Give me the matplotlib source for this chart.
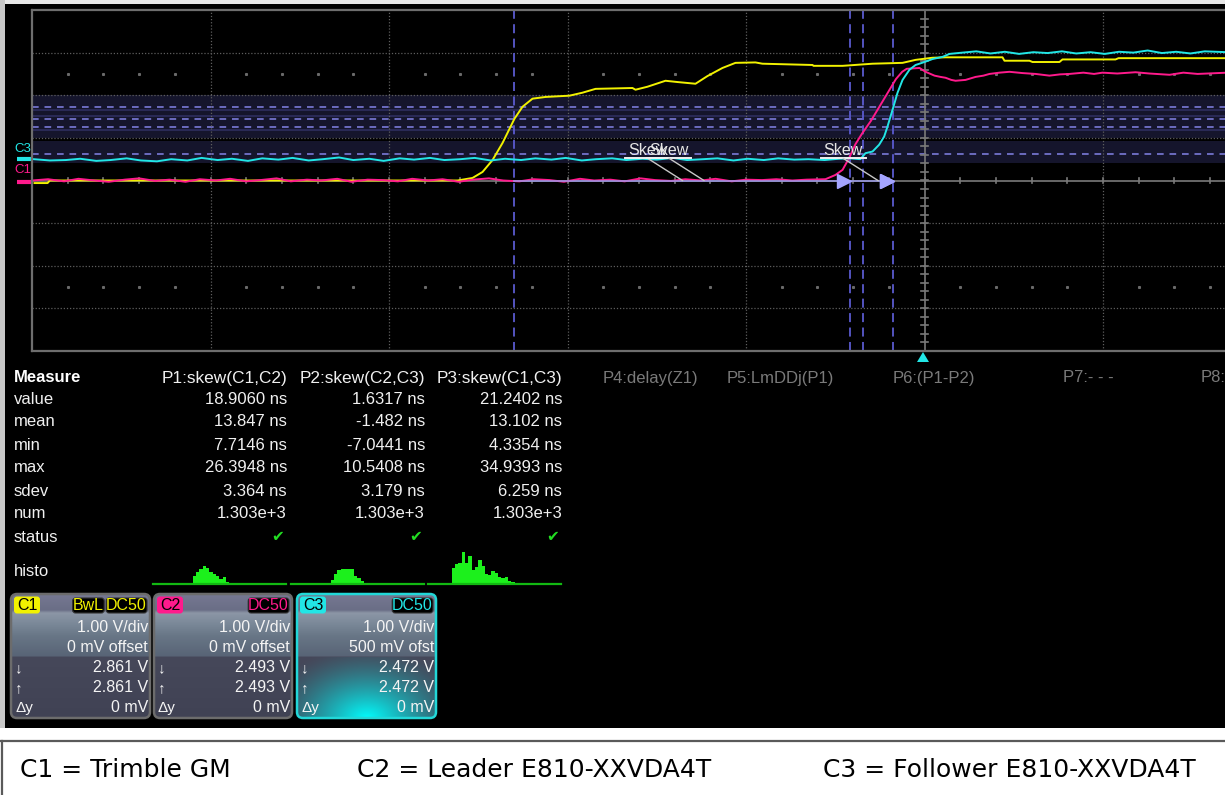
import numpy as np
import matplotlib
matplotlib.use("Agg")
import matplotlib.pyplot as plt
from matplotlib.patches import Rectangle, FancyBboxPatch, Polygon

W, H = 1225, 795

# ---------------- data ----------------
# time in ns (0 = screen centre / trigger), amplitude in V (1 V/div, 10 ns/div)
C1_POINTS = [(-49.86, -0.06), (-49.13, -0.06), (-49.0, 0.0), (-26.16, 0.0), (-25.32, 0.06),
             (-24.76, 0.20), (-24.20, 0.48), (-23.64, 0.88), (-22.97, 1.45), (-22.52, 1.73),
             (-21.96, 1.92), (-21.23, 1.96), (-19.89, 1.99), (-19.16, 2.06), (-18.43, 2.15),
             (-16.36, 2.17), (-16.19, 2.13), (-15.52, 2.20), (-14.51, 2.34), (-13.84, 2.31),
             (-12.83, 2.27), (-12.16, 2.45), (-11.32, 2.64), (-10.59, 2.76), (-9.47, 2.77),
             (-9.08, 2.74), (-6.27, 2.71), (-6.22, 2.69), (-4.59, 2.69), (-2.91, 2.74),
             (-1.23, 2.76), (-0.50, 2.83), (0.45, 2.88), (1.18, 2.89), (4.37, 2.89),
             (4.48, 2.81), (5.88, 2.81), (6.05, 2.78), (7.56, 2.78), (7.73, 2.84),
             (10.70, 2.84), (10.87, 2.87), (16.97, 2.87)]

C2_POINTS = [(-50.0, 0.0), (-49.1, 0.03), (-48.2, -0.02), (-47.4, 0.04), (-46.5, 0.0),
             (-45.7, -0.03), (-44.8, 0.02), (-44.0, 0.05), (-43.1, -0.01), (-42.3, 0.02),
             (-41.4, -0.03), (-40.6, 0.03), (-39.7, 0.0), (-38.9, 0.04), (-38.0, -0.02),
             (-37.2, 0.01), (-36.3, 0.05), (-35.5, -0.02), (-34.6, 0.02), (-33.8, 0.0),
             (-32.9, 0.04), (-32.1, -0.03), (-31.2, 0.02), (-30.4, 0.01), (-29.5, -0.02),
             (-28.7, 0.04), (-27.8, 0.0), (-27.0, 0.03), (-26.1, -0.03), (-25.3, 0.02),
             (-24.4, 0.05), (-23.6, 0.0), (-22.7, -0.02), (-21.9, 0.03), (-21.0, 0.01),
             (-20.2, -0.03), (-19.3, 0.04), (-18.5, 0.0), (-17.6, 0.02), (-16.8, -0.02),
             (-15.9, 0.05), (-15.1, 0.01), (-14.2, -0.01), (-13.4, 0.03), (-12.5, 0.0),
             (-11.7, 0.04), (-10.8, -0.02), (-10.0, 0.02), (-9.1, 0.01), (-8.3, 0.03),
             (-7.4, 0.0), (-6.6, 0.02), (-5.55, 0.03), (-4.99, 0.13), (-4.59, 0.25),
             (-4.22, 0.53), (-3.87, 0.85), (-3.50, 1.10), (-3.00, 1.40), (-2.50, 1.75),
             (-2.00, 2.10), (-1.60, 2.38), (-1.25, 2.55), (-1.00, 2.62), (-0.28, 2.64),
             (0.06, 2.55), (0.56, 2.46), (0.90, 2.43), (1.18, 2.41), (1.50, 2.36),
             (1.74, 2.34), (2.30, 2.36), (2.86, 2.43), (3.30, 2.46), (3.64, 2.50),
             (4.20, 2.53), (4.76, 2.55), (5.50, 2.52), (6.22, 2.50), (7.00, 2.46),
             (7.60, 2.49), (8.12, 2.50), (8.90, 2.53), (9.50, 2.50), (9.97, 2.53),
             (10.80, 2.51), (11.82, 2.54), (12.60, 2.51), (13.73, 2.48), (14.50, 2.53),
             (15.30, 2.50), (16.97, 2.53)]

# C3 signal in V (display is shifted by the 500 mV channel offset)
C3_POINTS = [(-49.9, 0.0), (-49.0, -0.03), (-48.1, -0.02), (-47.3, 0.01), (-46.4, -0.04),
             (-45.6, -0.02), (-44.7, 0.02), (-43.9, -0.03), (-43.0, -0.05), (-42.2, 0.0),
             (-41.3, -0.03), (-40.5, 0.03), (-39.6, -0.02), (-38.8, 0.01), (-37.9, -0.04),
             (-37.1, 0.02), (-36.2, -0.01), (-35.4, 0.03), (-34.5, -0.03), (-33.7, 0.0),
             (-32.8, 0.04), (-32.0, -0.02), (-31.1, 0.01), (-30.3, -0.04), (-29.4, 0.02),
             (-28.6, -0.01), (-27.7, 0.03), (-26.9, -0.02), (-26.0, 0.0), (-25.2, 0.03),
             (-24.3, -0.03), (-23.5, 0.01), (-22.6, -0.02), (-21.8, 0.02), (-20.9, -0.01),
             (-20.1, 0.03), (-19.2, -0.03), (-18.4, 0.0), (-17.5, 0.02), (-16.7, -0.02),
             (-15.8, 0.01), (-15.0, -0.01), (-14.1, 0.03), (-13.3, -0.02), (-12.4, 0.0),
             (-11.6, 0.02), (-10.7, -0.03), (-9.9, 0.01), (-9.0, -0.02), (-8.2, 0.02),
             (-7.3, -0.01), (-6.5, 0.0), (-5.6, -0.02), (-4.8, 0.01), (-4.2, 0.02),
             (-3.59, 0.0), (-3.31, 0.14), (-2.91, 0.18), (-2.54, 0.34), (-2.26, 0.53),
             (-2.07, 0.77), (-1.79, 1.16), (-1.51, 1.56), (-1.23, 1.86), (-0.84, 2.10),
             (-0.50, 2.21), (0.0, 2.28), (0.45, 2.35), (1.01, 2.40), (1.40, 2.47),
             (2.13, 2.50), (2.90, 2.53), (3.70, 2.48), (4.50, 2.52), (5.30, 2.47),
             (6.10, 2.51), (6.90, 2.49), (7.70, 2.53), (8.50, 2.48), (9.30, 2.51),
             (10.10, 2.47), (10.90, 2.52), (11.70, 2.50), (12.50, 2.55), (13.30, 2.49),
             (14.10, 2.52), (14.90, 2.48), (15.70, 2.53), (16.97, 2.51)]
C3_OFFSET = 0.5

# skew measurements: (start, stop) threshold crossings in ns, P1, P2, P3
SKEW_SPANS = [(-22.97, -4.15), (-3.47, -1.74), (-22.97, -1.74)]
SKEW_CURSORS = [-22.97, -4.15, -3.47, -1.74]
THRESH_BANDS = [(0.415, 0.915), (1.0, 1.995)]
THRESH_SOLID = [1.66, 1.52, 1.19]
THRESH_DASHED = [1.73, 1.44, 1.26, 0.62]

MEASURE_ROWS = ["value", "mean", "min", "max", "sdev", "num", "status", "histo"]
P_HEADERS = ["P1:skew(C1,C2)", "P2:skew(C2,C3)", "P3:skew(C1,C3)"]
P1_VALUES = ["18.9060 ns", "13.847 ns", "7.7146 ns", "26.3948 ns", "3.364 ns", "1.303e+3"]
P2_VALUES = ["1.6317 ns", "-1.482 ns", "-7.0441 ns", "10.5408 ns", "3.179 ns", "1.303e+3"]
P3_VALUES = ["21.2402 ns", "13.102 ns", "4.3354 ns", "34.9393 ns", "6.259 ns", "1.303e+3"]
OTHER_HEADERS = ["P4:delay(Z1)", "P5:LmDDj(P1)", "P6:(P1-P2)", "P7:- - -", "P8:"]

P1_HISTO = [0, 0, 0, 0, 0, 0, 0, 0, 0, 0, 0, 1.5, 8, 12, 15, 18, 16, 12, 10, 8, 5, 7, 2,
            1.5, 1.5, 1.5, 1.5, 1.5, 0, 0, 0, 0, 0, 0, 0, 0, 0, 0, 0, 0]
P2_HISTO = [0, 0, 0, 0, 0, 0, 0, 0, 0, 0, 0, 0, 4, 10, 14, 15, 15.5, 15.5, 15.5, 8, 6, 3.5,
            1.3, 1.3, 1.3, 1.3, 1.3, 0, 0, 0, 0, 0, 0, 0, 0, 0, 0, 0, 0, 0]
P3_HISTO = [0, 0, 0, 0, 0, 0, 0, 16, 20, 21, 32, 21, 28, 14, 17, 24, 18, 10, 9, 13, 11, 7, 6,
            7, 3, 2, 1.3, 1.3, 1.3, 1.3, 1.3, 1.3, 1.3, 0, 0, 0, 0, 0, 0, 0]

CH_NAMES = ["C1", "C2", "C3"]
CH_COLORS = ["#f2f200", "#ff1a8c", "#22e6e6"]
CH_BADGES = [["BwL", "DC50"], ["DC50"], ["DC50"]]
CH_VDIV = ["1.00 V/div", "1.00 V/div", "1.00 V/div"]
CH_OFFSET = ["0 mV offset", "0 mV offset", "500 mV ofst"]
CH_DOWN = ["2.861 V", "2.493 V", "2.472 V"]
CH_UP = ["2.861 V", "2.493 V", "2.472 V"]
CH_DY = ["0 mV", "0 mV", "0 mV"]

CAPTIONS = ["C1 = Trimble GM", "C2 = Leader E810-XXVDA4T", "C3 = Follower E810-XXVDA4T"]

# ---------------- layout (pixels) ----------------
PLOT_L, PLOT_T, PLOT_B = 32, 10, 351
T_MIN, T_MAX = -50.0, -50.0 + (W - PLOT_L) / 17.85
SANS = ["Liberation Sans", "DejaVu Sans"]

fig = plt.figure(figsize=(W / 100, H / 100), dpi=100)
fig.patch.set_facecolor("black")

bg = fig.add_axes([0, 0, 1, 1], zorder=0)
bg.set_xlim(0, W)
bg.set_ylim(H, 0)
bg.axis("off")
bg.add_patch(Rectangle((0, 0), W, 728, fc="black", ec="none"))
bg.add_patch(Rectangle((0, 0), W, 4, fc="#e8e8e8", ec="none"))
bg.add_patch(Rectangle((0, 0), 5, 728, fc="#c8c8c8", ec="none"))
bg.add_patch(Rectangle((0, 728), W, H - 728, fc="white", ec="none"))

ax = fig.add_axes([PLOT_L / W, 1 - PLOT_B / H, (W - PLOT_L) / W, (PLOT_B - PLOT_T) / H], zorder=1)
ax.patch.set_alpha(0)
ax.set_xlim(T_MIN, T_MAX)
ax.set_ylim(-4, 4)
ax.set_xticks([])
ax.set_yticks([])
for s in ["left", "top", "bottom"]:
    ax.spines[s].set_color("#6e6e6e")
    ax.spines[s].set_linewidth(1.6)
ax.spines["right"].set_visible(False)

# threshold bands
for lo, hi in THRESH_BANDS:
    ax.axhspan(lo, hi, color="#15152c", lw=0, zorder=0.5)
for v in THRESH_SOLID:
    ax.axhline(v, color="#2e2e5e", lw=1.2, zorder=0.6)
for v in THRESH_DASHED:
    ax.axhline(v, color="#7a7ad8", lw=1.2, dashes=(4, 3.5), zorder=0.7)

# grid
for v in [-3, -2, -1, 1, 2, 3]:
    ax.axhline(v, color="#5e5e5e", lw=0.9, ls=(0, (1, 1.5)), zorder=0.8)
for t in np.arange(-40, T_MAX, 10):
    if abs(t) > 1e-6:
        ax.axvline(t, color="#5e5e5e", lw=0.9, ls=(0, (1, 1.5)), zorder=0.8)
ax.axhline(0, color="#7a7a7a", lw=1.2, zorder=0.9)
ax.axvline(0, color="#7a7a7a", lw=1.2, zorder=0.9)
for t in np.arange(-48, T_MAX, 2):
    ax.plot([t, t], [-0.07, 0.07], color="#7a7a7a", lw=1.2, zorder=0.9)
for v in np.arange(-3.8, 4.0, 0.2):
    ax.plot([-0.18, 0.18], [v, v], color="#7a7a7a", lw=1.2, zorder=0.9)
dot_t = [t for t in np.arange(-48, T_MAX, 2) if abs(t / 10 - round(t / 10)) > 1e-6]
for v in [2.5, -2.5]:
    ax.plot(dot_t, [v] * len(dot_t), ls="none", marker="s", ms=1.2, color="#6a6a6a", zorder=0.8)

# skew cursors
for t in SKEW_CURSORS:
    ax.axvline(t, color="#5a5acf", lw=1.3, dashes=(5, 3), zorder=1.0)

# traces
c1_t, c1_v = zip(*C1_POINTS)
c2_t, c2_v = zip(*C2_POINTS)
c3_t, c3_v = zip(*C3_POINTS)
ax.plot(c1_t, c1_v, color=CH_COLORS[0], lw=1.4, zorder=2)
ax.plot(c2_t, c2_v, color=CH_COLORS[1], lw=1.4, zorder=2.1)
ax.plot(c3_t, np.array(c3_v) + C3_OFFSET, color=CH_COLORS[2], lw=1.4, zorder=2.2)

# skew arrows
ax.plot([SKEW_SPANS[2][0], SKEW_SPANS[2][1]], [0, 0], color="#9a9ae8", lw=1.3, alpha=0.85, zorder=2.3)
for start, stop in SKEW_SPANS:
    ax.plot([stop - 0.36], [0], marker=">", ms=10, color="#a4a4ff", mec="#a4a4ff", zorder=2.4)

# skew labels (they overlap in the original display too)
for start, stop in SKEW_SPANS:
    mid = (start + stop) / 2
    cx = mid - 1.95
    ax.text(cx, 0.70, "Skew", color="#e6e6e6", fontsize=11.5, ha="center", va="center",
            family=SANS, zorder=3)
    ax.plot([cx - 1.25, cx + 1.25], [0.52, 0.52], color="#f0f0f0", lw=1.4, zorder=3)
    ax.plot([cx, mid], [0.52, 0.0], color="#c8c8c8", lw=1.0, zorder=3)

# left channel markers
bg.text(14, 149, "C3", color=CH_COLORS[2], fontsize=9.5, ha="left", va="center", family=SANS)
bg.text(14, 170, "C1", color=CH_COLORS[1], fontsize=9.5, ha="left", va="center", family=SANS)
bg.plot([17, 32], [159.3, 159.3], color=CH_COLORS[2], lw=3, solid_capstyle="butt")
bg.plot([17, 32], [181.5, 181.5], color=CH_COLORS[1], lw=3, solid_capstyle="butt")
bg.add_patch(Polygon([[923, 352], [917, 362], [929, 362]], closed=True, fc="#22e6e6", ec="none"))

# ---------------- measure panel ----------------
ROW_Y = [399, 422, 445, 468, 491, 514, 537, 571]
COL_RIGHT = [287, 425, 562]
bg.text(14, 378, "Measure", color="white", fontsize=12, fontweight="bold", ha="left",
        va="center", family=SANS)
for name, y in zip(MEASURE_ROWS, ROW_Y):
    bg.text(14, y, name, color="#f0f0f0", fontsize=12, ha="left", va="center", family=SANS)
for hdr, xr, vals in zip(P_HEADERS, COL_RIGHT, [P1_VALUES, P2_VALUES, P3_VALUES]):
    bg.text(xr, 378, hdr, color="#f0f0f0", fontsize=12.4, ha="right", va="center", family=SANS)
    for val, y in zip(vals, ROW_Y):
        bg.text(xr, y, val, color="#f0f0f0", fontsize=12, ha="right", va="center", family=SANS)
    bg.text(xr - 3, 537, "\u2714", color="#22dd22", fontsize=11, ha="right", va="center",
            family=["DejaVu Sans"])
for hdr, xl in zip(OTHER_HEADERS, [603, 727, 893, 1063, 1201]):
    bg.text(xl, 378, hdr, color="#7a7a7a", fontsize=12, ha="left", va="center", family=SANS)

HISTO_BASE = 584.3
for counts, x0 in zip([P1_HISTO, P2_HISTO, P3_HISTO], [152.7, 290.7, 428.3]):
    width = 133.0 / len(counts)
    xs = x0 + width * np.arange(len(counts))
    bg.bar(xs, -np.array(counts), width=width, bottom=HISTO_BASE, align="edge",
           color="#1cf01c", lw=0)
    bg.plot([x0, x0 + 133], [HISTO_BASE, HISTO_BASE], color="#12b812", lw=1.6)

# ---------------- channel boxes ----------------
BOX_X = [(11, 150), (154, 292), (297, 436)]
BOX_T, BOX_B = 594, 718
stop_rel = [0, 16, 19, 30, 42, 62, 63, 124]
stop_rgb = np.array([[118, 120, 146], [106, 110, 134], [140, 150, 166], [122, 136, 152],
                     [104, 118, 134], [88, 100, 118], [70, 72, 90], [64, 66, 84]]) / 255.0

for i, (x0, x1) in enumerate(BOX_X):
    hgt = BOX_B - BOX_T
    wid = x1 - x0
    rows = np.arange(hgt) + 0.5
    col = np.stack([np.interp(rows, stop_rel, stop_rgb[:, k]) for k in range(3)], axis=1)
    img = np.repeat(col[:, None, :], wid, axis=1)
    if i == 2:
        yy, xx = np.mgrid[0:hgt, 0:wid]
        r = np.sqrt(((xx - wid / 2) / 105.0) ** 2 + ((yy - hgt) / 72.0) ** 2)
        a = np.clip(1 - r, 0, 1) ** 1.4
        a[yy < 63] = 0
        img = img * (1 - a[..., None]) + np.array([0.0, 1.0, 1.0]) * a[..., None]
    edge = "#22d8d8" if i == 2 else "#6c6c6c"
    patch = FancyBboxPatch((x0, BOX_T), wid, hgt, boxstyle="round,pad=0,rounding_size=6",
                           fc="none", ec=edge, lw=1.8, zorder=6)
    bg.add_patch(patch)
    im = bg.imshow(img, extent=(x0, x1, BOX_B, BOX_T), origin="upper", zorder=5,
                   interpolation="bilinear", aspect="auto")
    im.set_clip_path(patch)
    # name badge
    bg.add_patch(FancyBboxPatch((x0 + 3, 596.5), 26, 17, boxstyle="round,pad=0,rounding_size=3",
                                fc=CH_COLORS[i], ec="none", zorder=7))
    bg.text(x0 + 16, 605.5, CH_NAMES[i], color="black", fontsize=11.5, ha="center",
            va="center", family=SANS, zorder=8)
    xr = x1 - 3
    for b in reversed(CH_BADGES[i]):
        bw = 9.2 * len(b) + 4
        bg.add_patch(FancyBboxPatch((xr - bw, 598), bw, 15, boxstyle="round,pad=0,rounding_size=3",
                                    fc="black", ec="#333333", lw=0.8, zorder=7))
        bg.text(xr - bw / 2, 605.5, b, color=CH_COLORS[i], fontsize=11.5, ha="center",
                va="center", family=SANS, zorder=8)
        xr -= bw + 2
    for txt, y in zip([CH_VDIV[i], CH_OFFSET[i], CH_DOWN[i], CH_UP[i], CH_DY[i]],
                      [628, 648, 668, 688, 708]):
        bg.text(x1 - 2, y, txt, color="#f4f4f4", fontsize=11.5, ha="right", va="center",
                family=SANS, zorder=8)
    for sym, y in zip(["\u2193", "\u2191", "\u0394y"], [668, 688, 708]):
        bg.text(x0 + 4, y, sym, color="#f4f4f4", fontsize=11, ha="left", va="center",
                family=SANS, zorder=8)

# ---------------- caption ----------------
bg.plot([0, W], [741, 741], color="#5a5a5a", lw=1.6, zorder=9)
bg.plot([1.5, 1.5], [741, H], color="#5a5a5a", lw=1.6, zorder=9)
for txt, xl in zip(CAPTIONS, [20, 357, 823]):
    bg.text(xl, 770, txt, color="black", fontsize=18, ha="left", va="center",
            family=["DejaVu Sans"], zorder=9)

fig.savefig("out.png", dpi=100, facecolor=fig.get_facecolor())
